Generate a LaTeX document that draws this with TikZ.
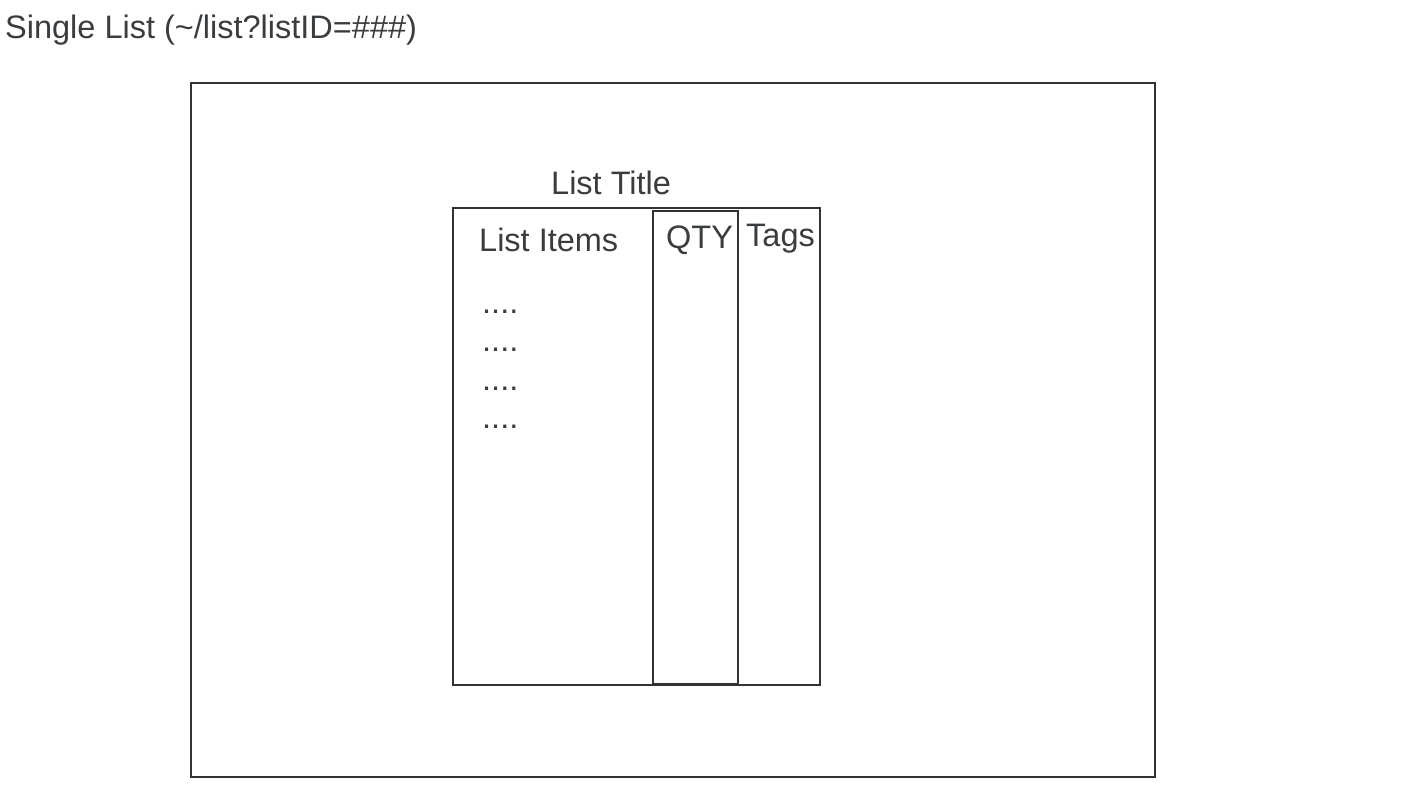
\documentclass[tikz,border=0pt]{standalone}
\usepackage{fontspec}
\setmainfont{Liberation Sans}
\begin{document}
\begin{tikzpicture}[x=1pt,y=-1pt,
  box/.style={draw=linegray, line width=2pt, inner sep=0pt, outer sep=0pt},
  lbl/.style={anchor=base west, inner sep=0pt, text=textgray, font=\fontsize{32.5}{38}\selectfont}]
\definecolor{linegray}{HTML}{333333}
\definecolor{textgray}{HTML}{3A3D40}
\useasboundingbox (0,0) rectangle (1422,800);
\node[box, minimum width=964pt, minimum height=694pt] (outer) at (673,430) {};
\node[box, minimum width=367pt, minimum height=477pt] (inner) at (636.5,446.5) {};
\node[box, minimum width=85pt, minimum height=473pt] (qty) at (695.5,447.5) {};
\node[lbl] (header) at (5,39) {Single List (\textasciitilde/list?listID=\#\#\#)};
\node[lbl] (title) at (551,194) {List Title};
\node[lbl] (items) at (479,251) {List Items};
\node[lbl] (qtylbl) at (666,248) {QTY};
\node[lbl] (tags) at (746,246) {Tags};
\node[lbl] (d1) at (482,313) {....};
\node[lbl] (d2) at (482,351) {....};
\node[lbl] (d3) at (482,390) {....};
\node[lbl] (d4) at (482,428) {....};
\end{tikzpicture}
\end{document}
